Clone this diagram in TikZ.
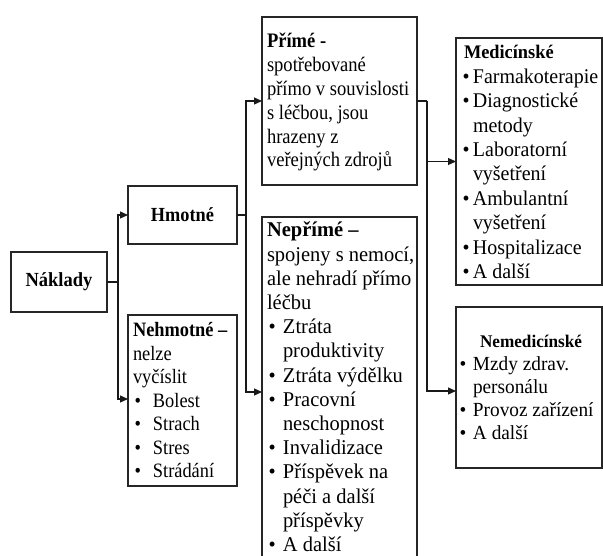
\documentclass[tikz,border=0pt]{standalone}
\usepackage{fontspec}
\setmainfont{Liberation Serif}
\usetikzlibrary{arrows.meta}
\newlength\bulo \newlength\bulw
\newcommand\bi[1]{\makebox[\bulw][l]{\hspace*{\bulo}\textbullet}#1}
\newcommand\cn[1]{\hspace*{\bulw}#1}
\newcommand\setb[2]{\setlength\bulo{#1}\setlength\bulw{#2}}
\newcommand\fs[3]{\fontsize{#1}{#2}\selectfont\addfontfeature{FakeStretch=#3}}
\newcommand\blk[1]{\begin{tabular}[t]{@{}l@{}}#1\end{tabular}}
\begin{document}
\begin{tikzpicture}[x=1pt,y=-1pt,
  box/.style={draw=black!85, line width=1.1pt, inner sep=0pt, outer sep=0pt, anchor=north west},
  txt/.style={inner sep=0pt, outer sep=0pt, anchor=base west},
  ln/.style={draw=black!90, line width=1.1pt},
  arr/.style={ln, -{Triangle[length=8pt,width=7pt]}}]
\useasboundingbox (0,0) rectangle (603,556);
\clip (0,0) rectangle (603,556);
\fill[white] (0,0) rectangle (603,556);
% boxes
\node[box, minimum width=96pt, minimum height=60pt, font=\bfseries\fs{20}{22}{0.925}] (nak) at (11,252) {Náklady};
\node[box, minimum width=109pt, minimum height=58pt, font=\bfseries\fs{20}{22}{0.915}] (hmot) at (128,186) {Hmotné};
\node[box, minimum width=109pt, minimum height=171pt] (nehm) at (128,315) {};
\node[box, minimum width=155pt, minimum height=168pt] (prime) at (262,17) {};
\node[box, minimum width=155pt, minimum height=360pt] (neprime) at (262,217) {};
\node[box, minimum width=146pt, minimum height=247pt] (med) at (456,38) {};
\node[box, minimum width=146pt, minimum height=161pt] (nemed) at (456,307) {};
% texts
\node[txt] (primeT) at (267,48) {\fs{20.6}{23.8}{0.9}\blk{\textbf{Přímé -}\\ spotřebované\\ přímo v souvislosti\\ s léčbou, jsou\\ hrazeny z\\ veřejných zdrojů}};
\node[txt] (nehmT) at (133,337) {\fs{20.4}{23.5}{0.9}\setb{1.5pt}{20pt}\blk{\textbf{Nehmotné –}\\ nelze\\ vyčíslit\\ \bi{Bolest}\\ \bi{Strach}\\ \bi{Stres}\\ \bi{Strádání}}};
\node[txt] (neprimeT) at (267,237) {\fs{21}{24.2}{0.975}\setb{1.5pt}{16pt}\blk{\textbf{Nepřímé –}\\ spojeny s nemocí,\\ ale nehradí přímo\\ léčbu\\ \bi{Ztráta}\\ \cn{produktivity}\\ \bi{Ztráta výdělku}\\ \bi{Pracovní}\\ \cn{neschopnost}\\ \bi{Invalidizace}\\ \bi{Příspěvek na}\\ \cn{péči a další}\\ \cn{příspěvky}\\ \bi{A další}}};
\node[txt] (medT) at (464,59) {\fs{20.9}{24.4}{0.955}\setb{-1.5pt}{9pt}\blk{\textbf{\fontsize{19.2}{24.4}\selectfont Medicínské}\\ \bi{Farmakoterapie}\\ \bi{Diagnostické}\\ \cn{metody}\\ \bi{Laboratorní}\\ \cn{vyšetření}\\ \bi{Ambulantní}\\ \cn{vyšetření}\\ \bi{Hospitalizace}\\ \bi{A další}}};
\node[txt] (nemedT) at (463,348) {\fs{20}{23}{0.965}\setb{-3.5pt}{10pt}\blk{\hspace*{17pt}\textbf{\fontsize{17.8}{23}\selectfont Nemedicínské}\\ \bi{Mzdy zdrav.}\\ \cn{personálu}\\ \bi{Provoz zařízení}\\ \bi{A další}}};
% junctions
\coordinate (j1) at (118,282);
\coordinate (j2) at (246,215);
\coordinate (j3) at (427,101);
\coordinate (nehmIn) at (128,399);
\coordinate (neprimeIn) at (262,392);
\coordinate (nemedIn) at (456,391);
% connectors
\draw[ln] (nak.east) -- (j1);
\draw[arr] (j1) |- (hmot.west);
\draw[arr] (j1) |- (nehmIn);
\draw[ln] (hmot.east) -- (j2);
\draw[arr] (j2) |- (prime.west);
\draw[arr] (j2) |- (neprimeIn);
\draw[ln] (prime.east) -- (j3);
\draw[arr] (j3) |- (med.west);
\draw[arr] (j3) |- (nemedIn);
\end{tikzpicture}
\end{document}
